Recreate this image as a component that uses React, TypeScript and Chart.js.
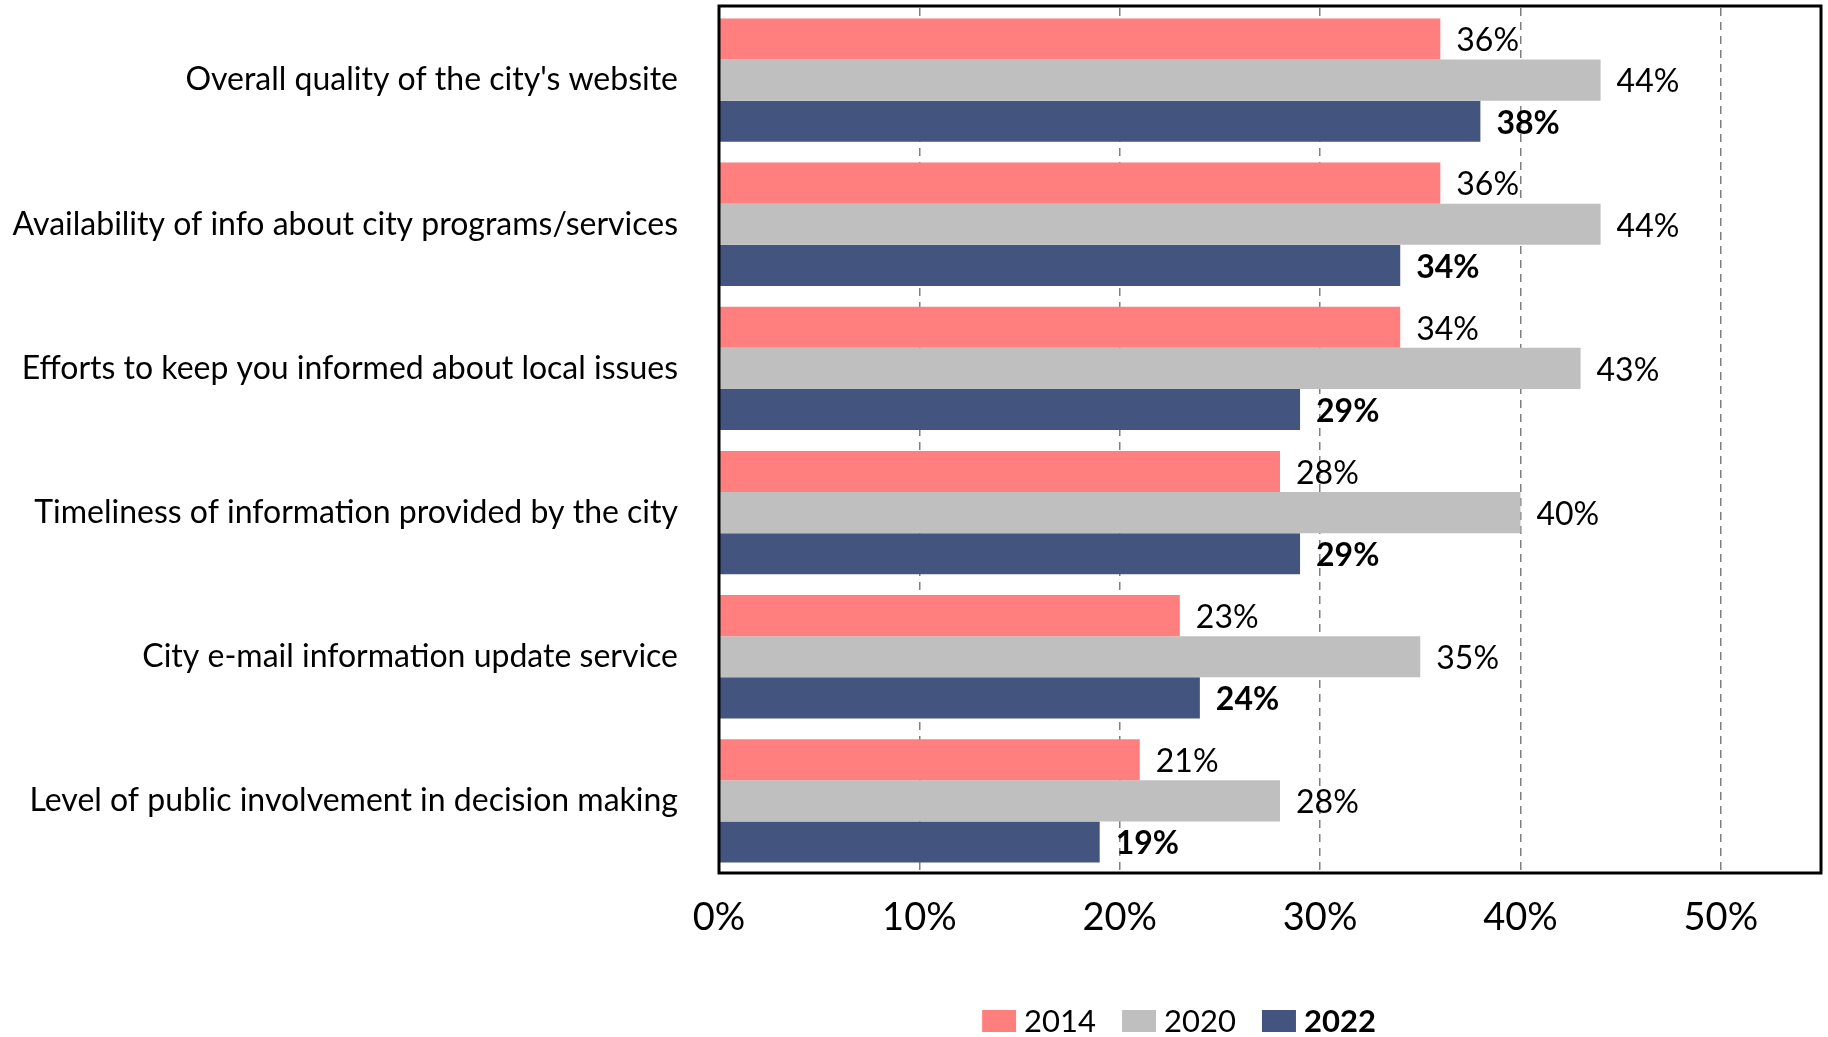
import React, { useEffect, useRef } from "react";
import { Chart, registerables } from "chart.js";
Chart.register(...registerables);

const categories = [
  "Overall quality of the city's website",
  "Availability of info about city programs/services",
  "Efforts to keep you informed about local issues",
  "Timeliness of information provided by the city",
  "City e-mail information update service",
  "Level of public involvement in decision making",
];
const years = ["2014", "2020", "2022"];
const values2014 = [36, 36, 34, 28, 23, 21];
const values2020 = [44, 44, 43, 40, 35, 28];
const values2022 = [38, 34, 29, 29, 24, 19];
const xTickValues = [0, 10, 20, 30, 40, 50];
const seriesColors = ["#FF7F7F", "#BFBFBF", "#43547E"];
const FONT = "Lato";

const valueLabels = {
  id: "valueLabels",
  afterDatasetsDraw(chart: any) {
    const ctx = chart.ctx;
    chart.data.datasets.forEach((ds: any, i: number) => {
      const meta = chart.getDatasetMeta(i);
      meta.data.forEach((bar: any, j: number) => {
        ctx.save();
        ctx.font = `${i === 2 ? "bold " : ""}32px ${FONT}`;
        ctx.fillStyle = "#000";
        ctx.textAlign = "left";
        ctx.textBaseline = "middle";
        ctx.fillText(ds.data[j] + "%", bar.x + 16, bar.y + 2);
        ctx.restore();
      });
    });
  },
};

const frame = {
  id: "frame",
  afterDatasetsDraw(chart: any) {
    const { ctx, chartArea } = chart;
    ctx.save();
    ctx.strokeStyle = "#000";
    ctx.lineWidth = 3;
    ctx.strokeRect(chartArea.left, chartArea.top - 2, chartArea.right - chartArea.left, chartArea.bottom - chartArea.top + 2);
    ctx.restore();
  },
};

const customLegend = {
  id: "customLegend",
  afterDraw(chart: any) {
    const ctx = chart.ctx;
    const boxW = 34, boxH = 22, gapText = 8, gapItem = 26;
    const cy = 1021;
    const items = chart.data.datasets.map((ds: any, i: number) => {
      const font = `${i === 2 ? "bold " : ""}31px ${FONT}`;
      ctx.save();
      ctx.font = font;
      const w = ctx.measureText(ds.label).width;
      ctx.restore();
      return { label: ds.label, color: ds.backgroundColor, font, w };
    });
    const total = items.reduce((s: number, it: any) => s + boxW + gapText + it.w, 0) + gapItem * (items.length - 1);
    let x = 1179 - total / 2;
    items.forEach((it: any) => {
      ctx.save();
      ctx.fillStyle = it.color;
      ctx.fillRect(x, cy - boxH / 2, boxW, boxH);
      x += boxW + gapText;
      ctx.font = it.font;
      ctx.fillStyle = "#000";
      ctx.textAlign = "left";
      ctx.textBaseline = "middle";
      ctx.fillText(it.label, x, cy + 1);
      x += it.w + gapItem;
      ctx.restore();
    });
  },
};

export default function App() {
  const ref = useRef<HTMLCanvasElement>(null);
  useEffect(() => {
    if (!ref.current) return;
    const chart = new Chart(ref.current, {
      type: "bar",
      data: {
        labels: categories,
        datasets: [
          { label: years[0], data: values2014, backgroundColor: seriesColors[0] },
          { label: years[1], data: values2020, backgroundColor: seriesColors[1] },
          { label: years[2], data: values2022, backgroundColor: seriesColors[2] },
        ],
      },
      options: {
        indexAxis: "y",
        animation: false,
        responsive: false,
        maintainAspectRatio: false,
        layout: { padding: { top: 8, right: 7, left: 0, bottom: 0 } },
        datasets: { bar: { categoryPercentage: 0.856, barPercentage: 1 } },
        plugins: { legend: { display: false }, tooltip: { enabled: false } },
        scales: {
          x: {
            min: 0,
            max: 55,
            afterFit: (s: any) => { s.height = 164; s.paddingLeft = 0; s.paddingRight = 0; },
            afterBuildTicks: (s: any) => { s.ticks = xTickValues.map((v) => ({ value: v })); },
            ticks: {
              includeBounds: false,
              stepSize: 10,
              padding: 22,
              color: "#000",
              font: { family: FONT, size: 38 },
              callback: (v: any) => v + "%",
            },
            grid: { color: "#7F7F7F", lineWidth: 1.5, drawTicks: false },
            border: { display: false, dash: [8, 6] },
          },
          y: {
            afterFit: (s: any) => { s.width = 719; s.paddingTop = 0; s.paddingBottom = 0; },
            ticks: {
              padding: 41,
              color: "#000",
              font: { family: FONT, size: 32 },
            },
            grid: { display: false, drawTicks: false },
            border: { display: false },
          },
        },
      },
      plugins: [valueLabels, frame, customLegend],
    } as any);
    return () => chart.destroy();
  }, []);
  return (
    <div style={{ position: "absolute", left: 0, top: 0, width: 1828, height: 1037, background: "#fff" }}>
      <canvas ref={ref} width={1828} height={1037} style={{ width: 1828, height: 1037 }} />
    </div>
  );
}
